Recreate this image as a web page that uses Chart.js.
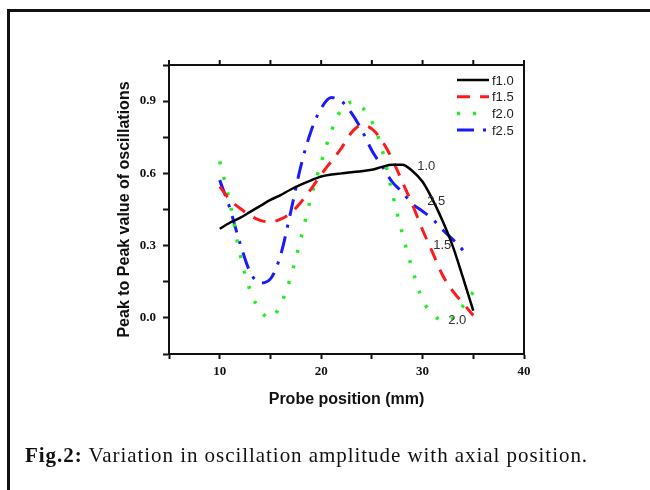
<!DOCTYPE html>
<html>
<head>
<meta charset="utf-8">
<title>Fig.2</title>
<script src="https://cdn.jsdelivr.net/npm/chart.js@4.4.1/dist/chart.umd.min.js"></script>
<style>
html, body { margin: 0; padding: 0; background: #fff; }
#wrap { position: relative; width: 650px; height: 490px; overflow: hidden; }
#frame { position: absolute; left: 7px; top: 9px; width: 700px; height: 600px;
         border-top: 3px solid #111; border-left: 3px solid #111; }
#chart { position: absolute; left: 0; top: 0; }
#caption { position: absolute; left: 25px; top: 445px; font-family: "Liberation Serif", serif;
           font-size: 21px; line-height: 21px; letter-spacing: 0.95px; color: #111; white-space: nowrap; }
</style>
</head>
<body>
<div id="wrap">
  <div id="frame"></div>
  <canvas id="chart" width="650" height="490"></canvas>
  <div id="caption"><b>Fig.2:</b> Variation in oscillation amplitude with axial position.</div>
</div>
<script>
// probe positions (mm)
var positions = [10, 11, 12, 13, 14, 15, 16, 17, 18, 19, 20, 21, 22, 23, 24, 25, 26, 27, 28, 29, 30, 31, 32, 33, 34, 35];
var f10 = [0.37, 0.395, 0.415, 0.44, 0.465, 0.49, 0.51, 0.533, 0.553, 0.571, 0.587, 0.595, 0.60, 0.605, 0.609, 0.615, 0.627, 0.636, 0.636, 0.61, 0.565, 0.49, 0.40, 0.295, 0.165, 0.03];
var f15 = [0.545, 0.49, 0.455, 0.425, 0.405, 0.398, 0.41, 0.435, 0.48, 0.535, 0.595, 0.65, 0.705, 0.77, 0.80, 0.785, 0.735, 0.66, 0.565, 0.47, 0.365, 0.27, 0.175, 0.11, 0.06, 0.01];
var f20 = [0.65, 0.48, 0.265, 0.114, 0.03, 0.0, 0.055, 0.17, 0.33, 0.50, 0.645, 0.775, 0.865, 0.895, 0.875, 0.815, 0.70, 0.52, 0.35, 0.20, 0.075, 0.015, -0.01, 0.0, 0.05, 0.107];
// f2.5 stops a little before 35 mm
var positions25 = [10, 11, 12, 13, 14, 15, 16, 17, 18, 19, 20, 21, 22, 23, 24, 25, 26, 27, 28, 29, 30, 31, 32, 33, 34, 34.5];
var f25 = [0.572, 0.455, 0.31, 0.19, 0.145, 0.162, 0.26, 0.44, 0.63, 0.775, 0.87, 0.915, 0.90, 0.85, 0.78, 0.695, 0.63, 0.565, 0.522, 0.473, 0.443, 0.41, 0.365, 0.325, 0.28, 0.253];

var seriesNames = ['f1.0', 'f1.5', 'f2.0', 'f2.5'];

// small labels written next to the curve ends
var curveLabels = ['1.0', '2.5', '1.5', '2.0'];
var curveLabelX = [29.47, 30.45, 31.05, 32.53];
var curveLabelY = [0.628, 0.485, 0.30, -0.011];

function toPoints(xs, ys) {
    return ys.map(function (v, i) { return { x: xs[i], y: v }; });
}

function lineSet(label, xs, ys, color, dash, width) {
    return {
        label: label,
        data: toPoints(xs, ys),
        borderColor: color,
        borderWidth: width,
        borderDash: dash,
        borderCapStyle: 'butt',
        pointRadius: 0,
        fill: false,
        cubicInterpolationMode: 'monotone'
    };
}

// plot frame: top and right edges, top ticks
var framePlugin = {
    id: 'frame',
    afterDraw: function (chart) {
        var ctx = chart.ctx, a = chart.chartArea, xs = chart.scales.x;
        ctx.save();
        ctx.strokeStyle = '#111';
        ctx.lineWidth = 2;
        ctx.beginPath();
        ctx.moveTo(a.left, a.top);
        ctx.lineTo(a.right, a.top);
        ctx.lineTo(a.right, a.bottom);
        ctx.stroke();
        for (var v = 5; v <= 40; v += 5) {
            var px = xs.getPixelForValue(v);
            ctx.beginPath();
            ctx.moveTo(px, a.top);
            ctx.lineTo(px, a.top - 5);
            ctx.stroke();
        }
        ctx.restore();
    }
};

var legendPlugin = {
    id: 'boxLegend',
    afterDraw: function (chart) {
        var ctx = chart.ctx;
        ctx.save();
        ctx.font = '13px "Liberation Sans", Arial, sans-serif';
        ctx.textBaseline = 'middle';
        ctx.fillStyle = '#222';
        chart.data.datasets.forEach(function (ds, i) {
            var y = 80 + i * 16.7;
            ctx.strokeStyle = ds.borderColor;
            ctx.lineWidth = ds.borderWidth;
            ctx.setLineDash(ds.borderDash || []);
            ctx.beginPath();
            ctx.moveTo(457, y);
            ctx.lineTo(489, y);
            ctx.stroke();
            ctx.setLineDash([]);
            ctx.fillText(ds.label, 492, y + 1);
        });
        ctx.restore();
    }
};

var curveLabelPlugin = {
    id: 'curveLabels',
    afterDraw: function (chart) {
        var ctx = chart.ctx, xs = chart.scales.x, ys = chart.scales.y;
        ctx.save();
        ctx.font = '13px "Liberation Sans", Arial, sans-serif';
        ctx.textBaseline = 'middle';
        ctx.fillStyle = '#333';
        curveLabels.forEach(function (t, i) {
            ctx.fillText(t, xs.getPixelForValue(curveLabelX[i]), ys.getPixelForValue(curveLabelY[i]));
        });
        ctx.restore();
    }
};

var tickFont = { family: '"Liberation Serif", "Times New Roman", serif', weight: 'bold', size: 13 };
var titleFont = { family: '"Liberation Sans", Arial, sans-serif', weight: 'bold', size: 16 };

new Chart(document.getElementById('chart').getContext('2d'), {
    type: 'line',
    data: {
        datasets: [
            lineSet(seriesNames[0], positions, f10, '#000000', [], 2.5),
            lineSet(seriesNames[1], positions, f15, '#ff1a1a', [13, 10], 3),
            lineSet(seriesNames[2], positions, f20, '#22ee22', [3, 13], 3.5),
            lineSet(seriesNames[3], positions25, f25, '#1a1aff', [17, 9, 3, 9], 3)
        ]
    },
    options: {
        responsive: false,
        animation: false,
        layout: { padding: { left: 100, right: 126, top: 65, bottom: 76 } },
        plugins: { legend: { display: false }, tooltip: { enabled: false } },
        scales: {
            x: {
                type: 'linear',
                min: 5,
                max: 40,
                afterFit: function (s) { s.height = 60; },
                ticks: {
                    stepSize: 5,
                    autoSkip: false,
                    maxRotation: 0,
                    padding: 5,
                    color: '#111',
                    font: tickFont,
                    callback: function (v) { return v % 10 === 0 ? String(v) : ''; }
                },
                grid: { drawOnChartArea: false, drawTicks: true, tickLength: 5, tickWidth: 2, tickColor: '#111' },
                border: { display: true, color: '#111', width: 2 },
                title: { display: true, text: 'Probe position (mm)', color: '#111', font: titleFont, padding: { top: 0, bottom: 5 } }
            },
            y: {
                min: -0.15,
                max: 1.05,
                afterFit: function (s) { s.width = 69; },
                ticks: {
                    stepSize: 0.15,
                    autoSkip: false,
                    padding: 7,
                    color: '#111',
                    font: tickFont,
                    callback: function (v) {
                        var r = Math.round(v * 100);
                        return (r >= 0 && r <= 90 && r % 30 === 0) ? (r / 100).toFixed(1) : '';
                    }
                },
                grid: { drawOnChartArea: false, drawTicks: true, tickLength: 6, tickWidth: 2, tickColor: '#111' },
                border: { display: true, color: '#111', width: 2 },
                title: { display: true, text: 'Peak to Peak value of oscillations', color: '#111', font: titleFont, padding: { top: 15, bottom: 0 } }
            }
        }
    },
    plugins: [framePlugin, legendPlugin, curveLabelPlugin]
});
</script>
</body>
</html>
